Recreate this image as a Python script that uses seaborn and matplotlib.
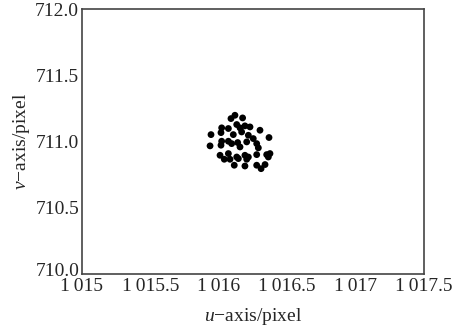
import matplotlib
matplotlib.use("Agg")
import matplotlib.pyplot as plt
import matplotlib.transforms as mtransforms
import seaborn as sns
import pandas as pd

u_vals = [1016.089, 1016.118, 1016.174, 1016.021, 1016.070, 1016.131, 1016.155, 1016.191,
          1016.228, 1016.301, 1015.943, 1016.016, 1016.106, 1016.167, 1016.216, 1016.252,
          1016.367, 1016.021, 1016.070, 1016.094, 1016.138, 1016.155, 1016.204, 1016.277,
          1015.936, 1016.016, 1016.289, 1016.009, 1016.070, 1016.131, 1016.191, 1016.216,
          1016.277, 1016.350, 1016.374, 1016.040, 1016.082, 1016.143, 1016.204, 1016.362,
          1016.113, 1016.191, 1016.277, 1016.309, 1016.338]
v_vals = [711.173, 711.198, 711.178, 711.103, 711.098, 711.128, 711.103, 711.118,
          711.110, 711.085, 711.052, 711.067, 711.052, 711.072, 711.047, 711.022,
          711.030, 711.002, 711.002, 710.984, 710.992, 710.959, 710.997, 710.984,
          710.967, 710.972, 710.952, 710.896, 710.909, 710.883, 710.896, 710.883,
          710.901, 710.901, 710.909, 710.866, 710.866, 710.871, 710.866, 710.883,
          710.821, 710.815, 710.821, 710.795, 710.826]

x_ticks = [1015.0, 1015.5, 1016.0, 1016.5, 1017.0, 1017.5]
x_tick_labels = ["1\u2009015", "1\u2009015.5", "1\u2009016", "1\u2009016.5", "1\u2009017", "1\u2009017.5"]
y_ticks = [710.0, 710.5, 711.0, 711.5, 712.0]
y_tick_labels = ["710.0", "710.5", "711.0", "711.5", "712.0"]

sns.set_style("white")
plt.rcParams["font.family"] = ["Liberation Serif", "DejaVu Serif"]
plt.rcParams["mathtext.fontset"] = "custom"
plt.rcParams["mathtext.rm"] = "Liberation Serif"
plt.rcParams["mathtext.it"] = "Liberation Serif:italic"

df = pd.DataFrame({"u": u_vals, "v": v_vals})

fig = plt.figure(figsize=(4.54, 3.29), dpi=100)
ax = fig.add_axes([82 / 454, 1 - 274 / 329, (424 - 82) / 454, (274 - 9) / 329])
sns.scatterplot(data=df, x="u", y="v", ax=ax, color="black", s=24, edgecolor="none", legend=False)

ax.set_xlim(1015.0, 1017.5)
ax.set_ylim(710.0, 712.0)
ax.set_xticks(x_ticks)
ax.set_xticklabels(x_tick_labels, fontsize=14)
ax.set_yticks(y_ticks)
ax.set_yticklabels(y_tick_labels, fontsize=14)
ax.tick_params(direction="in", length=4, width=1, color="#444444")
ax.tick_params(axis="x", pad=3)
ax.tick_params(axis="y", pad=2)
# lift the corner label a touch so it clears the first x label
lbl = ax.get_yticklabels()[0]
lbl.set_transform(lbl.get_transform() + mtransforms.ScaledTranslation(0, 4 / 100, fig.dpi_scale_trans))
for sp in ax.spines.values():
    sp.set_color("#444444")
    sp.set_linewidth(1.2)
    sp.set_visible(True)
ax.set_xlabel("$u$\u2212axis/pixel", fontsize=14, labelpad=8)
ax.set_ylabel("$v$\u2212axis/pixel", fontsize=14, labelpad=2)

fig.savefig("out.png", dpi=100)
